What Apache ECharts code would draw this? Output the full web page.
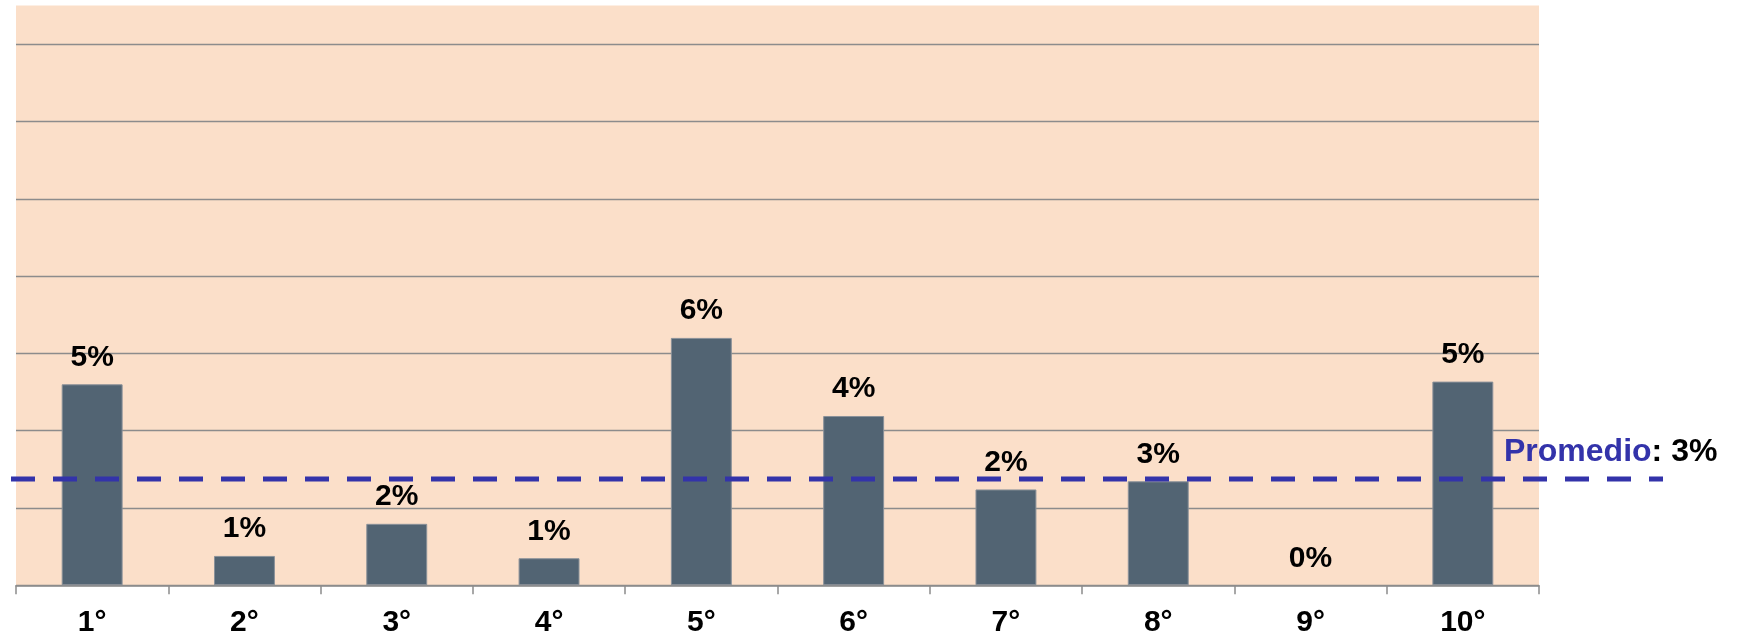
<!DOCTYPE html>
<html>
<head>
<meta charset="utf-8">
<script src="https://cdn.jsdelivr.net/npm/echarts@6/dist/echarts.min.js"></script>
<style>
html,body{margin:0;padding:0;background:#ffffff;}
#chart{width:1737px;height:638px;}
</style>
</head>
<body>
<div id="chart"></div>
<script>
const categories = ['1°','2°','3°','4°','5°','6°','7°','8°','9°','10°'];
const values = [5.2, 0.76, 1.59, 0.70, 6.4, 4.38, 2.48, 2.69, 0, 5.27];
const promedio = 2.75;
const promedioLabel = 'Promedio';

const chart = echarts.init(document.getElementById('chart'));
const fontFamily = '"Liberation Sans", Arial, sans-serif';
const barData = values.map(v => v === 0 ? {value: v, itemStyle: {borderWidth: 0}} : v);
chart.setOption({
  animation: false,
  backgroundColor: '#ffffff',
  grid: [
    {left: 16, right: 198, top: 5.5, bottom: 52.7, show: true, backgroundColor: '#FBDFC9', borderWidth: 0},
    {left: 11, right: 74, top: 5.5, bottom: 52.7, show: false}
  ],
  xAxis: [
    {
      type: 'category', data: categories, gridIndex: 0,
      axisLine: {show: true, lineStyle: {color: '#8c8c8c', width: 1.5}},
      axisTick: {show: true, length: 9, lineStyle: {color: '#8c8c8c', width: 1.5}},
      axisLabel: {color: '#000', fontSize: 30, fontWeight: 'bold', fontFamily: fontFamily, margin: 22}
    },
    {type: 'value', gridIndex: 1, min: 0, max: 1, show: false}
  ],
  yAxis: [
    {
      type: 'value', gridIndex: 0, min: 0, max: 15, interval: 2,
      axisLabel: {show: false}, axisLine: {show: false}, axisTick: {show: false},
      splitLine: {show: true, showMaxLine: false, lineStyle: {color: '#8c8c8c', width: 1.3}}
    },
    {type: 'value', gridIndex: 1, min: 0, max: 15, show: false}
  ],
  series: [
    {
      type: 'bar', data: barData, xAxisIndex: 0, yAxisIndex: 0,
      barWidth: '40%',
      itemStyle: {color: '#526473', borderColor: '#8a9199', borderWidth: 1},
      label: {
        show: true, position: 'top', distance: 12,
        color: '#000', fontSize: 30, fontWeight: 'bold', fontFamily: fontFamily,
        formatter: p => Math.round(p.value) + '%'
      },
      z: 2
    },
    {
      type: 'line', xAxisIndex: 1, yAxisIndex: 1,
      data: [[0, promedio], [1, promedio]],
      symbol: 'none',
      lineStyle: {color: '#3333AA', width: 5, type: [24, 18], cap: 'butt'},
      endLabel: {
        show: true,
        offset: [-167, -27],
        formatter: () => '{a|' + promedioLabel + '}{b|: ' + Math.round(promedio) + '%}',
        rich: {
          a: {color: '#3333AA', fontSize: 32, fontWeight: 'bold', fontFamily: fontFamily},
          b: {color: '#000', fontSize: 32, fontWeight: 'bold', fontFamily: fontFamily}
        }
      },
      z: 5
    }
  ]
});
</script>
</body>
</html>
